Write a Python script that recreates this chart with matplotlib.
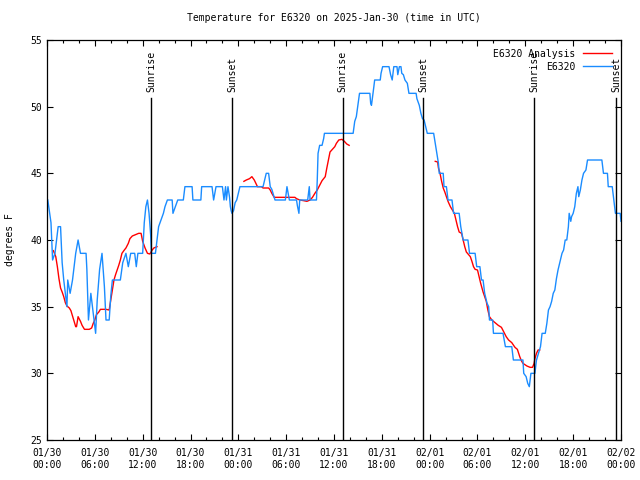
import numpy as np
import matplotlib
matplotlib.use("Agg")
import matplotlib.pyplot as plt

# hours since 2025-01-30 00:00 UTC
obs_hours = [0.1, 0.5, 0.7, 1.0, 1.4, 1.7, 1.9, 2.1, 2.5, 2.6, 2.9, 3.2, 3.6, 3.9, 4.2, 4.9, 5.0, 5.2,
             5.5, 5.8, 6.1, 6.3, 6.6, 6.9, 7.2, 7.4, 7.8, 8.0, 8.2, 9.2, 9.5, 9.9, 10.2, 10.5, 11.0,
             11.2, 11.4, 12.0, 12.2, 12.4, 12.6, 12.8, 13.0, 13.1, 13.6, 13.8, 14.0, 14.3, 14.6, 14.8,
             15.1, 15.7, 15.8, 16.1, 16.4, 17.1, 17.3, 18.2, 18.3, 19.3, 19.4, 20.7, 20.9, 21.2, 22.0,
             22.2, 22.4, 22.5, 22.7, 22.9, 23.0, 23.1, 23.2, 23.4, 23.6, 23.8, 24.0, 24.2, 27.1, 27.5,
             27.8, 28.0, 28.2, 28.4, 28.6, 29.9, 30.1, 30.4, 31.3, 31.4, 31.6, 31.7, 32.7, 32.9, 33.0,
             33.8, 33.9, 34.0, 34.2, 34.5, 34.7, 34.8, 38.4, 38.6, 38.8, 39.0, 39.2, 40.5, 40.6, 40.7,
             40.9, 41.0, 41.1, 41.8, 41.9, 42.1, 42.9, 43.1, 43.3, 43.5, 43.9, 44.0, 44.2, 44.4, 44.5,
             44.7, 44.9, 45.2, 45.4, 46.3, 46.4, 46.7, 46.9, 47.1, 47.3, 47.5, 47.7, 48.5, 48.7, 48.9,
             49.1, 49.2, 49.7, 49.8, 50.1, 50.3, 50.8, 51.0, 51.7, 51.9, 52.2, 52.8, 53.0, 53.7, 53.9,
             54.3, 54.5, 54.7, 54.9, 55.2, 55.4, 55.5, 55.9, 56.0, 57.2, 57.5, 58.3, 58.5, 59.7, 59.8,
             60.1, 60.3, 60.5, 60.7, 61.2, 61.4, 61.7, 61.9, 62.1, 62.5, 62.7, 62.9, 63.1, 63.3, 63.5,
             63.7, 63.9, 64.1, 64.3, 64.6, 64.8, 65.0, 65.2, 65.4, 65.5, 65.7, 65.8, 66.0, 66.2, 66.4,
             66.6, 66.7, 66.9, 67.1, 67.3, 67.6, 67.8, 69.6, 69.8, 70.3, 70.4, 70.9, 71.1, 71.3, 71.9,
             72.0]
obs_temp = [43, 41.3, 38.5, 39, 41, 41, 38.3, 37, 35, 37, 36, 37, 39, 40, 39, 39, 37.8, 34,
            36, 34.5, 33, 35.5, 37.8, 39, 36.5, 34, 34, 35.8, 37, 37, 38.3, 39, 38, 39, 39,
            38, 39, 39, 41.3, 42.5, 43, 42, 40.4, 39, 39, 40, 41, 41.5, 42, 42.5,
            43, 43, 42, 42.5, 43, 43, 44, 44, 43, 43, 44, 44, 43, 44, 44,
            43, 44, 43, 44, 43.2, 42.5, 42.2, 42, 42.2, 42.8, 43, 43.5, 44, 44, 45,
            45, 44, 43.8, 43.4, 43, 43, 44, 43, 43, 42.6, 42, 43, 43, 44, 43,
            43, 44.5, 46.5, 47.1, 47.1, 47.6, 48, 48, 48.9, 49.25, 50.1, 51, 51, 50.25, 50.1,
            51, 51.5, 52, 52, 52.5, 53, 53, 52.4, 52, 53, 53, 52.4, 53, 53, 52.5,
            52.4, 52, 51.75, 51, 51, 50.6, 50.1, 49.5, 49.1, 49, 48.5, 48, 48, 47.25, 46.5,
            45.75, 45, 45, 44, 44, 43, 43, 42, 42, 41, 40, 40, 39, 39, 38,
            38, 37, 37, 36, 35.25, 35, 34, 34, 33, 33, 32, 32, 31, 31, 30,
            29.75, 29.25, 29, 30, 30, 31, 31.6, 32, 33, 33, 33.75, 34.75, 35, 35.4, 36,
            36.25, 37.1, 37.75, 38.25, 39, 39.25, 40, 40, 41, 42, 41.4, 41.75, 42, 42.5, 43.5,
            44, 43.25, 43.75, 44.5, 45, 45.25, 46, 46, 45, 45, 44, 44, 43, 42, 42,
            41.4]

ana_hours = [0.8, 1.1, 1.3, 1.5, 1.7, 1.9, 2.1, 2.3, 2.5, 2.8, 3.0, 3.3, 3.6, 3.7, 3.9, 4.2, 4.4, 4.7,
             5.3, 5.6, 5.8, 6.0, 6.2, 6.5, 6.7, 7.4, 7.8, 8.0, 8.2, 8.4, 8.6, 8.8, 9.0, 9.2, 9.4, 9.7,
             9.9, 10.2, 10.4, 10.7, 11.1, 11.5, 11.8, 12.0, 12.3, 12.6, 12.9, 13.2, 13.4, 13.8,
             np.nan,
             24.7, 25.0, 25.4, 25.7, 26.0, 26.2, 26.4, 26.9, 27.1, 27.8, 28.0, 28.2, 28.5, 29.9, 31.1,
             31.3, 31.7, 32.2, 32.6, 33.0, 33.3, 33.6, 33.9, 34.2, 34.5, 34.9, 35.1, 35.3, 35.5, 35.8,
             36.1, 36.3, 36.6, 37.0, 37.3, 37.6, 37.9,
             np.nan,
             48.7, 49.0, 49.1, 49.3, 49.5, 49.7, 49.9, 50.1, 50.3, 50.6, 50.8, 51.1, 51.3, 51.5, 51.7,
             52.0, 52.2, 52.4, 52.6, 53.1, 53.3, 53.5, 53.7, 54.0, 54.2, 54.4, 54.7, 54.9, 55.1, 55.3,
             55.5, 55.8, 56.2, 56.6, 57.0, 57.3, 57.6, 57.9, 58.3, 58.7, 59.0, 59.3, 59.5, 59.7, 60.2,
             60.6, 60.9, 61.1, 61.2, 61.4, 61.6, 61.8]
ana_temp = [39.2, 38.75, 38, 37.1, 36.4, 36.1, 35.75, 35.3, 35.05, 34.9, 34.7, 34.1, 33.5, 33.5, 34.25,
            33.9, 33.6, 33.3, 33.3, 33.4, 33.75, 34.0, 34.4, 34.6, 34.8, 34.8, 34.75, 35.5, 36.25, 37,
            37.4, 37.75, 38.1, 38.5, 39.0, 39.25, 39.4, 39.75, 40.1, 40.3, 40.4, 40.5, 40.5, 39.9, 39.4,
            39.0, 38.95, 39.25, 39.4, 39.5,
            np.nan,
            44.4, 44.5, 44.6, 44.75, 44.5, 44.25, 44.0, 44.0, 43.9, 43.9, 43.75, 43.5, 43.2, 43.2, 43.2,
            43.1, 43.0, 42.95, 42.9, 43.0, 43.2, 43.5, 43.75, 44.1, 44.45, 44.75, 45.4, 46.0, 46.6, 46.8,
            47.0, 47.25, 47.5, 47.55, 47.4, 47.2, 47.1,
            np.nan,
            45.9, 45.85, 45.4, 45.0, 44.4, 43.9, 43.6, 43.25, 42.9, 42.5, 42.3, 42.0, 41.5, 41.0, 40.6,
            40.5, 40.0, 39.5, 39.1, 38.75, 38.4, 38.0, 37.8, 37.75, 37.25, 36.75, 36.1, 35.75, 35.4, 34.75,
            34.25, 34.0, 33.8, 33.6, 33.45, 33.1, 32.75, 32.5, 32.3, 31.95, 31.8, 31.25, 30.95, 30.75, 30.55,
            30.45, 30.45, 30.75, 31.1, 31.5, 31.75, 31.75]

sun_hours = [13.05, 23.2, 37.1, 47.2, 61.1, 71.4]
sun_labels = ["Sunrise", "Sunset", "Sunrise", "Sunset", "Sunrise", "Sunset"]

tick_hours = list(range(0, 73, 6))
tick_labels = ["01/30\n00:00", "01/30\n06:00", "01/30\n12:00", "01/30\n18:00",
               "01/31\n00:00", "01/31\n06:00", "01/31\n12:00", "01/31\n18:00",
               "02/01\n00:00", "02/01\n06:00", "02/01\n12:00", "02/01\n18:00",
               "02/02\n00:00"]

plt.rcParams['font.family'] = 'DejaVu Sans Mono'
plt.rcParams['font.size'] = 7

fig = plt.figure(figsize=(6.4, 4.8), dpi=100)
ax = fig.add_axes([47 / 640, 40 / 480, 574 / 640, 400 / 480])

ax.plot(ana_hours, ana_temp, color='#ff0000', lw=1.0, label='E6320 Analysis')
ax.plot(obs_hours, obs_temp, color='#1a8cff', lw=1.0, label='E6320')

for h, lab in zip(sun_hours, sun_labels):
    ax.axvline(h, ymin=0, ymax=0.855, color='black', lw=1.0)
    ax.text(h, 0.87, lab, transform=ax.get_xaxis_transform(), rotation=90,
            ha='center', va='bottom', fontsize=7)

ax.set_xlim(0, 72)
ax.set_ylim(25, 55)
ax.set_xticks(tick_hours)
ax.set_xticklabels(tick_labels)
ax.set_xticks(range(0, 73, 2), minor=True)
ax.set_yticks(range(25, 56, 5))
ax.tick_params(which='both', direction='in', top=True, right=True, labelsize=7)
ax.tick_params(which='major', length=4.5, width=0.8)
ax.tick_params(which='minor', length=2.5, width=0.8)
ax.tick_params(axis='x', pad=6)
for s in ax.spines.values():
    s.set_linewidth(0.9)

ax.set_title("Temperature for E6320 on 2025-Jan-30 (time in UTC)", fontsize=7, pad=14)
ax.set_ylabel("degrees F", fontsize=7, labelpad=11)

ax.legend(loc='upper right', frameon=False, markerfirst=False, handlelength=3.0,
          borderaxespad=0.5, labelspacing=0.3, handletextpad=0.8, fontsize=7)

plt.savefig("out.png", dpi=100)
